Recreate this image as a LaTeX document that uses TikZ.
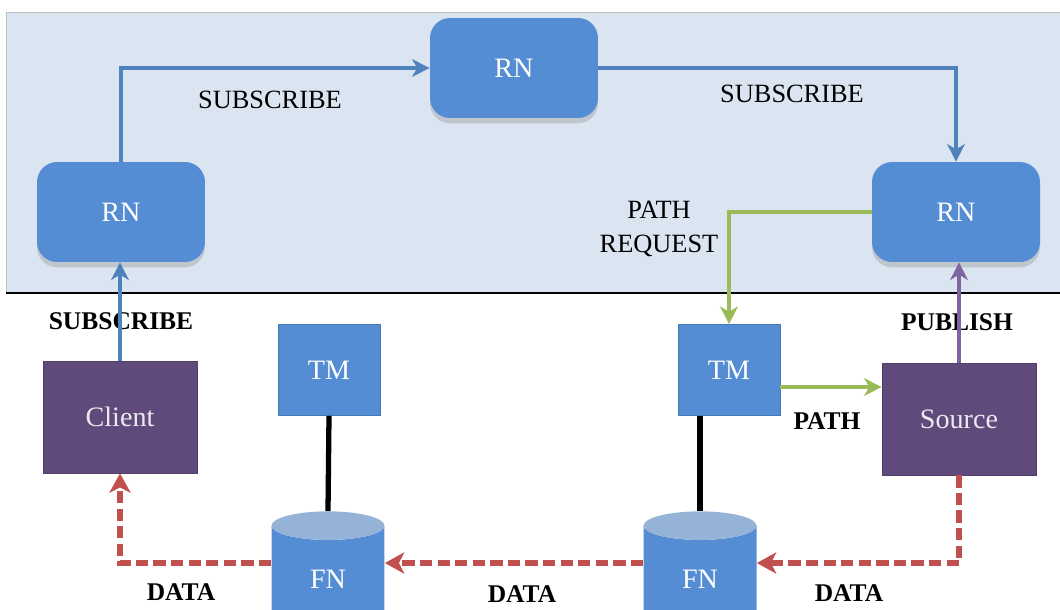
\documentclass[tikz,border=0pt]{standalone}
\usepackage{fontspec}
\setmainfont{Liberation Serif}
\usetikzlibrary{positioning,calc,shapes.geometric,shadows,arrows.meta}

\definecolor{panelbg}{RGB}{219,229,241}
\definecolor{nodeblue}{RGB}{84,141,212}
\definecolor{linkblue}{RGB}{79,129,189}
\definecolor{hostpurple}{RGB}{96,74,123}
\definecolor{pubpurple}{RGB}{128,100,162}
\definecolor{pathgreen}{RGB}{155,187,89}
\definecolor{datared}{RGB}{192,80,77}
\definecolor{fntop}{RGB}{149,179,215}

\begin{document}
\begin{tikzpicture}[
			x=0.02cm, y=-0.02cm,
			rn/.style={
				rectangle,
				rounded corners=0.4cm,
				fill=nodeblue,
				minimum width=3.36cm,
				minimum height=2cm,
				text=white,
				font=\fontsize{16}{18}\selectfont,
				drop shadow={opacity=0.3, shadow xshift=0pt, shadow yshift=-3pt}
			},
			tm/.style={
				rectangle,
				fill=nodeblue,
				draw=nodeblue!85!black,
				minimum width=2.04cm,
				minimum height=1.82cm,
				text=white,
				font=\fontsize{16}{18}\selectfont
			},
			host/.style={
				rectangle,
				fill=hostpurple,
				draw=hostpurple!85!black,
				minimum width=3.08cm,
				minimum height=2.24cm,
				text=white!88!hostpurple,
				font=\fontsize{16}{18}\selectfont
			},
			fn/.style={
				cylinder,
				shape border rotate=90,
				aspect=0.6,
				anchor=north,
				cylinder uses custom fill,
				cylinder body fill=nodeblue,
				cylinder end fill=fntop,
				minimum width=2.26cm,
				minimum height=2.3cm,
				text=white,
				font=\fontsize{16}{18}\selectfont
			},
			lbl/.style={font=\fontsize{15}{19}\selectfont},
			blbl/.style={font=\bfseries\fontsize{14.5}{17}\selectfont},
			link/.style={line width=2.1pt, -{Stealth[length=10pt,width=10pt,inset=3pt]}},
			data/.style={datared, line width=3.2pt, dash pattern=on 7pt off 3pt, -{Stealth[length=11pt,width=12pt,inset=3pt]}},
			tie/.style={line width=3pt}
			]
			\useasboundingbox (0,0) rectangle (1060,609);
			% upper panel
			\fill[panelbg] (6,12) rectangle (1060,293);
			\draw[gray!50] (6,293) |- (1060,12);
			\draw[line width=1.5pt] (6,293) -- (1060,293);

			\node[rn] (rnL) at (121,212) {RN};
			\node[rn] (rnT) at (514,68) {RN};
			\node[rn] (rnR) at (956,212) {RN};

			\node[host] (client) at (120,417) {Client};
			\node[host] (src) at (959,419) {Source};
			\node[tm] (tmL) at (329,370) {TM};
			\node[tm] (tmR) at (729,370) {TM};
			\node[fn] (fnL) at (328,511) {FN};
			\node[fn] (fnR) at (700,511) {FN};

			% labels
			\node[lbl] (subA) at (270,100) {SUBSCRIBE};
			\node[lbl] (subB) at (792,94) {SUBSCRIBE};
			\node[lbl, align=center] (preq) at (659,229) {PATH\\REQUEST};
			\node[blbl] (subC) at (121,321) {SUBSCRIBE};
			\node[blbl] (pub) at (957,322) {PUBLISH};
			\node[blbl] (pathl) at (827,421) {PATH};
			\node[blbl] (dataA) at (181,592) {DATA};
			\node[blbl] (dataB) at (522,594) {DATA};
			\node[blbl] (dataC) at (849,593) {DATA};

			% connectors
			\draw[link, linkblue] (rnL.north) |- (rnT.west);
			\draw[link, linkblue] (rnT.east) -| (rnR.north);
			\draw[link, linkblue] (client.north) -- (client.north |- rnL.south);
			\draw[link, pubpurple] (src.north) -- (src.north |- rnR.south);
			\draw[link, pathgreen, line width=2.5pt] (rnR.west) -| (tmR.north);
			\draw[link, pathgreen, line width=2.5pt] ($(tmR.east)+(0,17)$) -- ($(tmR.east -| src.west)+(0,17)$);
			\draw[tie] (tmL.south) -- (fnL.north);
			\draw[tie] (fnR.north) -- (fnR.north |- tmR.south);
			\coordinate (inL) at (fnL.west |- 0,563);
			\coordinate (outL) at (fnL.east |- 0,563);
			\coordinate (inR) at (fnR.west |- 0,563);
			\coordinate (outR) at (fnR.east |- 0,563);
			\draw[data] (inL) -| (client.south);
			\draw[data] (inR) -- (outL);
			\draw[data] (src.south) |- (outR);
		\end{tikzpicture}
\end{document}
